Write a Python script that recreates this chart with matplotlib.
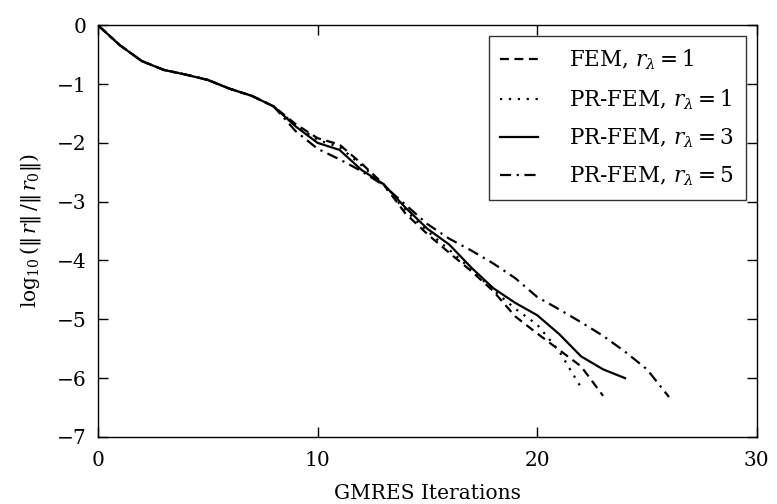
import matplotlib
matplotlib.use("Agg")
import matplotlib.pyplot as plt

# GMRES convergence histories: log10 of relative residual per iteration
iters_fem1 = list(range(0, 24))
fem_r1 = [0.0, -0.34, -0.61, -0.76, -0.84, -0.93, -1.08, -1.20, -1.38,
          -1.68, -1.92, -2.03, -2.35, -2.70, -3.20, -3.55, -3.87, -4.18,
          -4.52, -4.95, -5.24, -5.52, -5.80, -6.30]

iters_pr1 = list(range(0, 23))
prfem_r1 = [0.0, -0.34, -0.61, -0.76, -0.84, -0.93, -1.08, -1.20, -1.38,
            -1.70, -1.95, -2.07, -2.38, -2.72, -3.15, -3.50, -3.82, -4.15,
            -4.50, -4.82, -5.09, -5.54, -6.16]

iters_pr3 = list(range(0, 25))
prfem_r3 = [0.0, -0.34, -0.61, -0.76, -0.84, -0.93, -1.08, -1.20, -1.38,
            -1.72, -2.00, -2.12, -2.46, -2.70, -3.10, -3.46, -3.73, -4.12,
            -4.47, -4.72, -4.93, -5.25, -5.63, -5.85, -6.00]

iters_pr5 = list(range(0, 27))
prfem_r5 = [0.0, -0.34, -0.61, -0.76, -0.84, -0.93, -1.08, -1.20, -1.38,
            -1.80, -2.10, -2.28, -2.48, -2.72, -3.05, -3.38, -3.63, -3.83,
            -4.05, -4.30, -4.62, -4.83, -5.05, -5.28, -5.55, -5.85, -6.32]

labels = [r"FEM, $r_\lambda = 1$", r"PR-FEM, $r_\lambda = 1$",
          r"PR-FEM, $r_\lambda = 3$", r"PR-FEM, $r_\lambda = 5$"]

xticks = [0, 10, 20, 30]
yticks = [0, -1, -2, -3, -4, -5, -6, -7]

plt.rcParams["font.family"] = ["DejaVu Serif"]
plt.rcParams["mathtext.fontset"] = "dejavuserif"
fs = 14.5

fig = plt.figure(figsize=(7.77, 5.04), dpi=100)
ax = fig.add_axes([0.126, 0.133, 0.848, 0.817])

lw = 1.6
ax.plot(iters_fem1, fem_r1, color="black", lw=lw, linestyle=(0, (4, 2.5)), label=labels[0])
ax.plot(iters_pr1, prfem_r1, color="black", lw=lw, linestyle=(0, (1, 3)), label=labels[1])
ax.plot(iters_pr3, prfem_r3, color="black", lw=lw, linestyle="-", label=labels[2])
ax.plot(iters_pr5, prfem_r5, color="black", lw=lw, linestyle=(0, (5, 2.5, 1, 2.5)), label=labels[3])

ax.set_xlim(0, 30)
ax.set_ylim(-7, 0)
ax.set_xticks(xticks)
ax.set_yticks(yticks)
ax.set_yticklabels([f"{t}".replace("-", "\u2212") for t in yticks])
ax.tick_params(direction="in", top=True, right=True, length=7, width=1,
               labelsize=fs)
ax.tick_params(axis="x", pad=10)
ax.tick_params(axis="y", pad=8)
for s in ax.spines.values():
    s.set_linewidth(1.0)

ax.set_xlabel("GMRES Iterations", fontsize=fs, labelpad=10)
ax.set_ylabel(r"$\log_{10}(\Vert\, r\Vert\,/\Vert\, r_0\Vert)$", fontsize=fs, labelpad=10)

leg = ax.legend(loc="upper right", fontsize=15.5, frameon=True, fancybox=False,
                edgecolor="black", handlelength=1.75, borderaxespad=0.5,
                labelspacing=0.68, handletextpad=1.45, borderpad=0.55)
leg.get_frame().set_linewidth(1.0)

fig.savefig("out.png", dpi=100)
